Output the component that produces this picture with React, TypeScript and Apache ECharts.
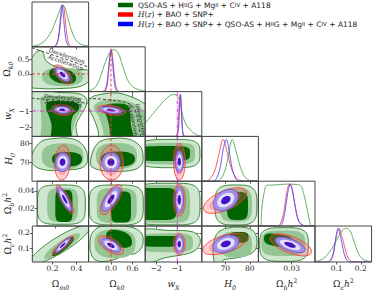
import React, { useEffect, useRef } from "react";
import * as echarts from "echarts";

// ---------- parameters: Ωm0, Ωk0, wX, H0, Ωbh², Ωch² ----------
const RANGES: number[][] = [
  [0.033, 0.5],
  [-0.62, 0.95],
  [-2.53, 0.17],
  [60.4, 83.5],
  [0, 0.051],
  [0.01, 0.245],
];
const XTICKS: number[][] = [[0.2, 0.4], [0.0, 0.6], [-2, -1], [70, 80], [0.03], [0.1, 0.2]];
const YTICKS: number[][] = [[], [0.0, 0.5], [-2, -1], [70, 80], [0.02, 0.04], [0.1, 0.2]];
const AXIS_NAMES: string[] = [
  "{o|Ω}{s|m0}",
  "{o|Ω}{s|k0}",
  "{i|w}{s|X}",
  "{i|H}{s|0}",
  "{o|Ω}{s|b}{i|h}{p|2}",
  "{o|Ω}{s|c}{i|h}{p|2}",
];

const NAME_G = "QSO-AS + HIIG + MgII + CIV + A118";
const NAME_R = "H(z) + BAO + SNP+";
const NAME_B = "H(z) + BAO + SNP+ + QSO-AS + HIIG + MgII + CIV + A118";

// ---------- 1D marginals (x, relative probability) ----------
const gOm = [[0.033,0.01],[0.08,0.04],[0.13,0.12],[0.18,0.3],[0.21,0.48],[0.24,0.7],[0.265,0.9],[0.285,1.0],[0.305,0.93],[0.335,0.62],[0.37,0.3],[0.4,0.14],[0.43,0.07],[0.47,0.03],[0.5,0.02]];
const rOm = [[0.033,0],[0.2,0],[0.23,0.04],[0.255,0.25],[0.27,0.62],[0.29,1.0],[0.305,0.72],[0.32,0.3],[0.34,0.05],[0.37,0],[0.5,0]];
const bOm = [[0.033,0],[0.2,0],[0.23,0.03],[0.25,0.2],[0.265,0.6],[0.28,1.0],[0.295,0.65],[0.31,0.22],[0.33,0.03],[0.36,0],[0.5,0]];

const gOk = [[-0.62,0.02],[-0.5,0.06],[-0.4,0.14],[-0.29,0.36],[-0.16,0.69],[-0.02,0.95],[0.06,1.0],[0.19,0.94],[0.33,0.6],[0.46,0.28],[0.6,0.12],[0.75,0.05],[0.95,0.02]];
const rOk = [[-0.62,0],[-0.27,0],[-0.17,0.04],[-0.1,0.28],[-0.05,0.7],[0.01,1.0],[0.06,0.7],[0.11,0.28],[0.17,0.04],[0.27,0],[0.95,0]];
const bOk = [[-0.62,0],[-0.25,0],[-0.15,0.03],[-0.09,0.25],[-0.05,0.65],[0.0,1.0],[0.05,0.65],[0.09,0.25],[0.15,0.03],[0.25,0],[0.95,0]];

const gW = [[-2.53,0.31],[-2.13,0.56],[-1.65,0.84],[-1.33,0.98],[-1.17,1.0],[-0.93,0.92],[-0.77,0.56],[-0.61,0.31],[-0.37,0.15],[-0.05,0.03],[0.17,0.01]];
const rW = [[-2.53,0],[-1.12,0],[-1.01,0.05],[-0.95,0.35],[-0.91,0.8],[-0.87,1.0],[-0.82,0.7],[-0.77,0.25],[-0.71,0.03],[-0.62,0],[0.17,0]];
const bW = [[-2.53,0],[-1.08,0],[-0.98,0.05],[-0.92,0.35],[-0.88,0.8],[-0.84,1.0],[-0.8,0.7],[-0.76,0.25],[-0.71,0.03],[-0.62,0],[0.17,0]];

const gH = [[60.4,0],[66,0],[68,0.05],[69.8,0.25],[71.2,0.6],[72.8,1.0],[74.2,0.75],[75.6,0.45],[77,0.2],[78.5,0.07],[80.5,0.01],[83.5,0]];
const rH = [[60.4,0],[62,0],[63.5,0.04],[65.5,0.22],[67.3,0.62],[69.1,1.0],[70.8,0.68],[72.5,0.3],[74.5,0.08],[76.5,0.01],[79,0],[83.5,0]];
const bH = [[60.4,0],[64,0],[66,0.03],[67.8,0.3],[69,0.72],[70.4,1.0],[71.6,0.72],[72.8,0.3],[74.5,0.04],[76,0],[83.5,0]];

const gB = [[0,0],[0.0021,0.01],[0.003,0.4],[0.0055,0.85],[0.0075,0.97],[0.015,0.98],[0.025,1.0],[0.035,0.99],[0.0385,0.95],[0.041,0.75],[0.044,0.4],[0.047,0.03],[0.049,0],[0.051,0]];
const rB = [[0,0],[0.016,0],[0.0195,0.04],[0.023,0.35],[0.0255,0.8],[0.028,1.0],[0.0305,0.85],[0.033,0.48],[0.036,0.13],[0.04,0.02],[0.043,0],[0.051,0]];
const bB = [[0,0],[0.018,0],[0.021,0.04],[0.024,0.35],[0.0265,0.8],[0.0288,1.0],[0.031,0.82],[0.0335,0.42],[0.037,0.08],[0.041,0.01],[0.044,0],[0.051,0]];

const gC = [[0.01,0.01],[0.03,0.05],[0.05,0.13],[0.072,0.32],[0.09,0.52],[0.106,0.74],[0.125,0.95],[0.14,1.0],[0.155,0.93],[0.168,0.7],[0.181,0.42],[0.192,0.22],[0.202,0.13],[0.215,0.06],[0.228,0.03],[0.245,0.01]];
const rC = [[0.01,0],[0.06,0],[0.073,0.04],[0.087,0.3],[0.098,0.75],[0.11,1.0],[0.121,0.78],[0.133,0.45],[0.147,0.12],[0.16,0.02],[0.17,0],[0.245,0]];
const bC = [[0.01,0],[0.06,0],[0.075,0.04],[0.088,0.3],[0.097,0.75],[0.106,1.0],[0.116,0.75],[0.126,0.4],[0.138,0.1],[0.15,0.01],[0.16,0],[0.245,0]];

const MARGINALS = [
  [gOm, rOm, bOm],
  [gOk, rOk, bOk],
  [gW, rW, bW],
  [gH, rH, bH],
  [gB, rB, bB],
  [gC, rC, bC],
];

// ---------- 2D green contours: [outer, middle, inner] ----------
// polygon = list of [x, y]; superellipse = [cx, cy, left, right, down, up, exponent, corr]
const green_Om_Ok = [
  [[0.0165,0.417],[0.058,0.715],[0.091,0.82],[0.124,0.768],[0.14,0.523],[0.182,0.347],[0.264,0.225],[0.388,0.155],[0.51,0.102],[0.51,-0.213],[0.429,-0.441],[0.264,-0.511],[0.099,-0.511],[0.0165,-0.424]],
  [0.2805,-0.091,0.165,0.173,0.333,0.315,2.5,0],
  [0.285,-0.073,0.111,0.111,0.28,0.28,2.2,-0.3],
];
const green_Om_w = [
  [[0.0165,0.116],[0.264,0.116],[0.429,0.025],[0.483,-0.276],[0.479,-0.698],[0.437,-1.241],[0.396,-1.844],[0.4,-3.05],[0.0165,-3.05]],
  [[0.107,-0.156],[0.264,-0.095],[0.413,-0.186],[0.446,-0.517],[0.429,-1.06],[0.388,-1.663],[0.363,-2.568],[0.359,-3.05],[0.124,-3.05],[0.111,-1.543],[0.103,-0.638]],
  [[0.165,-0.457],[0.281,-0.397],[0.404,-0.517],[0.421,-0.879],[0.371,-1.301],[0.355,-1.844],[0.351,-3.05],[0.198,-3.05],[0.194,-1.844],[0.173,-1.301],[0.149,-0.819]],
];
const green_Ok_w = [
  [[-0.637,-0.517],[-0.526,-0.156],[-0.304,-0.005],[0.168,0.086],[0.612,-0.186],[0.945,-0.578],[1.084,-0.94],[1.084,-3.05],[-0.276,-3.05],[-0.359,-2.146],[-0.498,-1.362],[-0.623,-0.819]],
  [[-0.47,-0.698],[-0.304,-0.427],[0.029,-0.307],[0.445,-0.397],[0.75,-0.698],[0.972,-1.06],[1.084,-1.543],[1.084,-3.05],[-0.137,-3.05],[-0.221,-2.146],[-0.332,-1.362],[-0.456,-0.94]],
  [[-0.221,-0.698],[0.112,-0.548],[0.445,-0.638],[0.528,-1.06],[0.556,-1.844],[0.639,-3.05],[0.057,-3.05],[-0.054,-1.844],[-0.137,-1.241],[-0.248,-0.94]],
];
const green_Om_H = [
  [[0.025,72.88],[0.066,78.03],[0.124,81.39],[0.223,82.42],[0.322,82.67],[0.412,81.13],[0.47,77.52],[0.491,73.39],[0.483,69.27],[0.429,66.95],[0.305,66.18],[0.182,65.92],[0.083,67.21],[0.033,69.79]],
  [0.285,73.13,0.172,0.172,6.6,6.8,2.6,0],
  [0.322,71.85,0.124,0.124,3.9,3.6,2.4,0],
];
const green_Ok_H = [
  [[-0.567,69.78],[-0.498,75.97],[-0.304,80.87],[0.112,82.52],[0.528,81.9],[0.806,78.55],[0.889,73.91],[0.861,69.27],[0.667,66.43],[0.251,65.5],[-0.248,65.92],[-0.526,67.72]],
  [0.154,73.4,0.569,0.569,6.7,6.7,2.6,0],
  [0.196,71.85,0.47,0.47,3.9,3.9,2.4,0],
];
const green_w_H = [
  [-1.108,74.75,1.91,1.19,7.4,7.2,3.5,0],
  [-1.108,74.75,1.91,0.954,5.7,5.5,3.5,0],
  [-1.347,74.75,1.67,0.954,3.97,3.76,4,0],
];
const green_Om_B = [
  [0.253,0.0243,0.217,0.217,0.0224,0.0224,4,0],
  [0.264,0.0239,0.14,0.14,0.0193,0.0193,4,0],
  [0.276,0.0228,0.078,0.078,0.0182,0.0182,5,0],
];
const green_Ok_B = [
  [0.148,0.0239,0.749,0.749,0.0228,0.0228,4,0],
  [0.16,0.0233,0.555,0.555,0.0199,0.0199,4,0],
  [0.279,0.0216,0.277,0.277,0.0176,0.0176,5,0],
];
const green_w_B = [
  [-1.252,0.0251,1.91,1.336,0.0239,0.0236,4,0],
  [-1.347,0.0251,1.91,0.954,0.0216,0.0216,4,0],
  [-1.824,0.0251,1.43,0.797,0.0182,0.0182,5,0],
];
const green_H_B = [
  [74.35,0.0239,8.57,8.57,0.0228,0.0228,3.5,0],
  [74.35,0.0239,6.53,6.53,0.019,0.019,3.5,0],
  [74.97,0.0228,4.28,4.28,0.0159,0.0159,4,0],
];
const green_Om_C = [
  [0.264,0.124,0.2475,0.2475,0.126,0.126,2,0.88],
  [0.28,0.114,0.1485,0.1485,0.084,0.084,2,0.88],
  [0.289,0.111,0.091,0.091,0.063,0.063,2,0.88],
];
const green_Ok_C = [
  [[-0.581,0.137],[-0.526,0.198],[-0.304,0.24],[0.168,0.248],[0.639,0.232],[0.861,0.193],[0.889,0.13],[0.806,0.088],[0.612,0.061],[0.39,0.072],[0.196,0.035],[-0.165,0.014],[-0.442,0.024],[-0.567,0.077]],
  [0.112,0.135,0.569,0.569,0.1,0.089,2.6,0],
  [0.223,0.156,0.361,0.361,0.052,0.063,2.4,-0.3],
];
const green_w_C = [
  [[-2.778,0.208],[-1.347,0.216],[-0.298,0.208],[0.06,0.172],[0.06,0.119],[-0.25,0.077],[-0.87,0.054],[-1.586,0.038],[-2.3,0.004],[-2.778,0.004]],
  [-1.252,0.137,1.67,1.0,0.063,0.06,3.5,0],
  [-1.586,0.145,1.43,0.716,0.035,0.035,4,0],
];
const green_H_C = [
  [[65.38,0.145],[67.01,0.203],[71.09,0.232],[78.03,0.235],[81.7,0.208],[82.92,0.145],[82.11,0.088],[79.25,0.056],[73.95,0.035],[69.46,0.025],[68.23,0.004],[65.79,0.004],[64.97,0.077]],
  [74.35,0.124,6.53,6.53,0.084,0.084,3,0],
  [75.58,0.172,3.88,3.88,0.037,0.034,3,0],
];
const green_B_C = [
  [0.0231,0.124,0.0219,0.0219,0.11,0.11,3.5,0],
  [0.0224,0.132,0.0196,0.0196,0.083,0.083,3.5,0],
  [0.0177,0.151,0.0126,0.0135,0.042,0.042,3,-0.3],
];

// [row, col, contours]
const GREEN_PANELS: [number, number, any[]][] = [
  [1, 0, green_Om_Ok],
  [2, 0, green_Om_w],
  [2, 1, green_Ok_w],
  [3, 0, green_Om_H],
  [3, 1, green_Ok_H],
  [3, 2, green_w_H],
  [4, 0, green_Om_B],
  [4, 1, green_Ok_B],
  [4, 2, green_w_B],
  [4, 3, green_H_B],
  [5, 0, green_Om_C],
  [5, 1, green_Ok_C],
  [5, 2, green_w_C],
  [5, 3, green_H_C],
  [5, 4, green_B_C],
];

// ---------- red / blue 2D (outer contour): [row, col, cx, cy, halfX, halfY, corr] ----------
const RED_2D = [
  [1,0,0.287,-0.02,0.076,0.333,-0.6],
  [2,0,0.285,-0.93,0.089,0.33,-0.15],
  [2,1,0.01,-0.95,0.39,0.3,-0.4],
  [3,0,0.285,70.0,0.064,9.0,0.1],
  [3,1,0.018,70.0,0.325,9.0,0],
  [3,2,-0.9,70.4,0.277,9.4,0],
  [4,0,0.287,0.0302,0.08,0.0165,-0.85],
  [4,1,0.0,0.03,0.3,0.0171,0.7],
  [4,2,-0.9,0.0295,0.277,0.018,0],
  [4,3,69.9,0.029,8.85,0.0146,0.6],
  [5,0,0.285,0.119,0.089,0.061,0.9],
  [5,1,0.0,0.119,0.347,0.061,-0.6],
  [5,2,-0.9,0.127,0.277,0.07,0],
  [5,3,69.9,0.128,9.1,0.07,0.55],
  [5,4,0.0292,0.122,0.0187,0.072,-0.6],
];
const BLUE_2D = [
  [1,0,0.285,-0.02,0.062,0.252,-0.6],
  [2,0,0.283,-0.93,0.068,0.223,-0.15],
  [2,1,0.0,-0.95,0.305,0.22,-0.4],
  [3,0,0.285,70.2,0.062,4.9,0.05],
  [3,1,0.0,70.2,0.255,4.9,0],
  [3,2,-0.9,70.5,0.2,5.6,0],
  [4,0,0.283,0.0305,0.064,0.0139,-0.85],
  [4,1,0.0,0.0305,0.255,0.0139,0.7],
  [4,2,-0.9,0.0298,0.2,0.0151,0],
  [4,3,70.2,0.0295,5.1,0.0123,0.35],
  [5,0,0.285,0.119,0.064,0.049,0.9],
  [5,1,0.0,0.119,0.27,0.046,-0.6],
  [5,2,-0.9,0.127,0.2,0.057,0],
  [5,3,70.2,0.128,5.3,0.057,0.3],
  [5,4,0.0285,0.122,0.0135,0.051,-0.6],
];

// ---------- reference lines ----------
const OK_FLAT = 0; // Ωk0 = 0
const W_LCDM = -1; // wX = -1
const decel_Om_Ok = [[0.033,0.91],[0.5,0.24]];
const decel_Om_w = [[0.03,-0.234],[0.264,-0.367],[0.497,-0.535]];
const decel_Ok_w = [[-0.637,-0.234],[-0.026,-0.336],[0.473,-0.535],[0.667,-0.94],[0.759,-1.742],[0.82,-2.568]];
const DECEL_LINES: [number, number, number[][]][] = [
  [1, 0, decel_Om_Ok],
  [2, 0, decel_Om_w],
  [2, 1, decel_Ok_w],
];
// [row, col, x, y, rotationDeg, text, fontSize]
const DECEL_TEXT: any[] = [
  [1, 0, 0.32, 0.63, -19, "Deceleration", 5.8],
  [1, 0, 0.31, 0.4, -19, "Acceleration", 5.8],
  [2, 0, 0.285, -0.19, -5, "Deceleration", 5.8],
  [2, 0, 0.29, -0.56, -5, "Acceleration", 5.8],
  [2, 1, 0.83, -1.5, -78, "Deceleration", 5],
  [2, 1, 0.62, -1.55, -78, "Acceleration", 5],
];

// ---------- layout ----------
const LEFT = 32, TOP = 2, CW = 56.6, CH = 44.8, YMAX1D = 1.07;
const SERIF = "DejaVu Serif";
const SANS = "DejaVu Sans";

const FMT: ((v: number) => string)[] = [
  (v) => v.toFixed(1),
  (v) => v.toFixed(1),
  (v) => (v < 0 ? "\u2212" + Math.abs(v) : String(v)),
  (v) => String(v),
  (v) => v.toFixed(2),
  (v) => v.toFixed(1),
];

const RICH: any = {
  o: { fontFamily: SERIF, fontSize: 9, color: "#222", lineHeight: 13, verticalAlign: "middle" },
  i: { fontFamily: SERIF, fontSize: 9, fontStyle: "italic", color: "#222", lineHeight: 13, verticalAlign: "middle" },
  s: { fontFamily: SERIF, fontSize: 6.3, fontStyle: "italic", color: "#222", lineHeight: 13, verticalAlign: "bottom" },
  p: { fontFamily: SERIF, fontSize: 6.3, color: "#222", lineHeight: 13, verticalAlign: "top" },
};

function ellipsePts(cx: number, cy: number, ax: number, ay: number, rho: number, k: number) {
  const s = Math.sqrt(1 - rho * rho);
  const pts: number[][] = [];
  const N = 64;
  for (let i = 0; i < N; i++) {
    const t = (2 * Math.PI * i) / N;
    const u = Math.cos(t), w = Math.sin(t);
    pts.push([cx + k * ax * u, cy + k * ay * (rho * u + s * w)]);
  }
  return pts;
}
function superPts(p: number[]) {
  const [cx, cy, axl, axr, ayd, ayu, n, rho] = p;
  const s = Math.sqrt(1 - rho * rho);
  const pts: number[][] = [];
  const N = 72;
  for (let i = 0; i < N; i++) {
    const t = (2 * Math.PI * i) / N;
    const u = Math.cos(t), w = Math.sin(t);
    const up = Math.sign(u) * Math.pow(Math.abs(u), 2 / n);
    const wp = Math.sign(w) * Math.pow(Math.abs(w), 2 / n);
    const yy = rho * up + s * wp;
    pts.push([cx + (up >= 0 ? axr : axl) * up, cy + (yy >= 0 ? ayu : ayd) * yy]);
  }
  return pts;
}

const GREEN_STYLE = [
  { fill: "#cfe6cf", stroke: "#3d8c3d", lineWidth: 1 },
  { fill: "#93c693", stroke: "none", lineWidth: 0 },
  { fill: "#006400", stroke: "none", lineWidth: 0 },
];
const RED_STYLE = [
  { fill: "rgba(255,90,90,0.28)", stroke: "#ff3b3b", lineWidth: 0.9 },
  { fill: "rgba(255,90,90,0.3)", stroke: "rgba(255,60,60,0.6)", lineWidth: 0.5 },
  { fill: "rgba(255,90,90,0.35)", stroke: "none", lineWidth: 0 },
];
const BLUE_STYLE = [
  { fill: "rgba(160,145,236,0.9)", stroke: "#5a3ee6", lineWidth: 0.7 },
  { fill: "rgba(232,228,250,0.95)", stroke: "rgba(120,100,235,0.6)", lineWidth: 0.4 },
  { fill: "#4412c6", stroke: "none", lineWidth: 0 },
];
const LEVELS = [1, 0.7, 0.38];

function buildOption() {
  const panels: number[][] = [];
  for (let r = 0; r < 6; r++) for (let c = 0; c <= r; c++) panels.push([r, c]);
  const gi = (r: number, c: number) => panels.findIndex((p) => p[0] === r && p[1] === c);

  const tickStyle = { color: "#333", width: 0.8 };
  const labelBase = { fontSize: 7.5, fontFamily: SERIF, color: "#222", margin: 2.5 };

  const grid = panels.map(([r, c]) => ({
    left: LEFT + c * CW,
    top: TOP + r * CH,
    width: CW,
    height: CH,
  }));
  const xAxis = panels.map(([r, c], g) => ({
    gridIndex: g,
    type: "value",
    min: RANGES[c][0],
    max: RANGES[c][1],
    axisLine: { show: false },
    splitLine: { show: false },
    axisTick: { show: true, length: 2.5, customValues: XTICKS[c], lineStyle: tickStyle },
    axisLabel: { show: r === 5, customValues: XTICKS[c], formatter: FMT[c], ...labelBase },
    name: r === 5 ? AXIS_NAMES[c] : "",
    nameLocation: "middle",
    nameGap: 15,
    nameTextStyle: { rich: RICH },
  }));
  const yAxis = panels.map(([r, c], g) =>
    r === c
      ? { gridIndex: g, type: "value", min: 0, max: YMAX1D, show: false }
      : {
          gridIndex: g,
          type: "value",
          min: RANGES[r][0],
          max: RANGES[r][1],
          axisLine: { show: false },
          splitLine: { show: false },
          axisTick: { show: true, length: 2.5, customValues: YTICKS[r], lineStyle: tickStyle },
          axisLabel: { show: c === 0, customValues: YTICKS[r], formatter: FMT[r], ...labelBase },
          name: c === 0 ? AXIS_NAMES[r] : "",
          nameLocation: "middle",
          nameGap: 17,
          nameRotate: 90,
          nameTextStyle: { rich: RICH },
        }
  );

  const series: any[] = [];

  const contourSeries = (g: number, r: number, c: number, shapes: { pts: number[][]; smooth: number; style: any }[], z: number) => ({
    type: "custom",
    xAxisIndex: g,
    yAxisIndex: g,
    clip: true,
    silent: true,
    z,
    data: [[RANGES[c][0], RANGES[r][0]]],
    renderItem: (params: any, api: any) => {
      const cs = params.coordSys;
      return {
        type: "group",
        clipPath: { type: "rect", shape: { x: cs.x, y: cs.y, width: cs.width, height: cs.height } },
        children: shapes.map((sh) => ({
          type: "polygon",
          shape: { points: sh.pts.map((p) => api.coord(p)), smooth: sh.smooth },
          style: { ...sh.style },
        })),
      };
    },
  });

  // green contours
  GREEN_PANELS.forEach(([r, c, levels]) => {
    const shapes = levels.map((lv: any, k: number) => {
      const isPoly = Array.isArray(lv[0]);
      return { pts: isPoly ? lv : superPts(lv), smooth: isPoly ? 0.35 : 0, style: GREEN_STYLE[k] };
    });
    series.push(contourSeries(gi(r, c), r, c, shapes, 2));
  });
  // red and blue contours
  [
    [RED_2D, RED_STYLE, 3],
    [BLUE_2D, BLUE_STYLE, 4],
  ].forEach(([table, styles, z]: any) => {
    table.forEach((row: number[]) => {
      const [r, c, cx, cy, ax, ay, rho] = row;
      const shapes = LEVELS.map((k, i) => ({ pts: ellipsePts(cx, cy, ax, ay, rho, k), smooth: 0, style: styles[i] }));
      series.push(contourSeries(gi(r, c), r, c, shapes, z));
    });
  });

  // 1D marginals
  const lineCols = ["#55a955", "#ff4a4a", "#5050ff"];
  const names = [NAME_G, NAME_R, NAME_B];
  MARGINALS.forEach((sets, p) => {
    sets.forEach((data, k) => {
      series.push({
        type: "line",
        name: names[k],
        xAxisIndex: gi(p, p),
        yAxisIndex: gi(p, p),
        data,
        smooth: 0.35,
        showSymbol: false,
        symbol: "none",
        silent: true,
        z: 3 + k,
        lineStyle: { color: lineCols[k], width: 1, opacity: 0.9 },
        itemStyle: { color: lineCols[k] },
      });
    });
  });

  // reference lines: Ωk0 = 0 (red dashed) and wX = -1 (magenta dash-dot)
  const refLine = (g: number, data: number[][], color: string, type: any) => ({
    type: "line",
    xAxisIndex: g,
    yAxisIndex: g,
    data,
    symbol: "none",
    silent: true,
    z: 6,
    lineStyle: { color, width: 1, type },
  });
  const RED_DASH = [3, 2];
  const MAG_DASH = [4, 1.5, 1, 1.5];
  for (let r = 1; r < 6; r++) {
    const yr = r === 1 ? [0, YMAX1D] : RANGES[r];
    series.push(refLine(gi(r, 1), [[OK_FLAT, yr[0]], [OK_FLAT, yr[1]]], "#e0403f", RED_DASH));
  }
  series.push(refLine(gi(1, 0), [[RANGES[0][0], OK_FLAT], [RANGES[0][1], OK_FLAT]], "#e0403f", RED_DASH));
  for (let r = 2; r < 6; r++) {
    const yr = r === 2 ? [0, YMAX1D] : RANGES[r];
    series.push(refLine(gi(r, 2), [[W_LCDM, yr[0]], [W_LCDM, yr[1]]], "#d040d0", MAG_DASH));
  }
  series.push(refLine(gi(2, 0), [[RANGES[0][0], W_LCDM], [RANGES[0][1], W_LCDM]], "#d040d0", MAG_DASH));
  series.push(refLine(gi(2, 1), [[RANGES[1][0], W_LCDM], [RANGES[1][1], W_LCDM]], "#d040d0", MAG_DASH));

  // deceleration / acceleration boundary
  DECEL_LINES.forEach(([r, c, data]) => {
    series.push({
      type: "line",
      xAxisIndex: gi(r, c),
      yAxisIndex: gi(r, c),
      data,
      smooth: 0.4,
      symbol: "none",
      silent: true,
      z: 7,
      lineStyle: { color: "#333", width: 0.9, type: [3, 2] },
    });
  });
  DECEL_TEXT.forEach(([r, c, x, y, rot, text, fs]) => {
    series.push({
      type: "custom",
      xAxisIndex: gi(r, c),
      yAxisIndex: gi(r, c),
      silent: true,
      clip: false,
      z: 8,
      data: [[x, y]],
      renderItem: (_p: any, api: any) => {
        const pt = api.coord([api.value(0), api.value(1)]);
        return {
          type: "text",
          x: pt[0],
          y: pt[1],
          rotation: (rot * Math.PI) / 180,
          style: { text, fontSize: fs, fontFamily: SERIF, fill: "#1a1a1a", align: "center", verticalAlign: "middle" },
        };
      },
    });
  });

  // panel frames
  panels.forEach(([r, c], g) => {
    series.push({
      type: "custom",
      xAxisIndex: g,
      yAxisIndex: g,
      silent: true,
      clip: false,
      z: 20,
      data: [[RANGES[c][0], r === c ? 0 : RANGES[r][0]]],
      renderItem: (params: any) => {
        const cs = params.coordSys;
        return {
          type: "rect",
          shape: { x: cs.x, y: cs.y, width: cs.width, height: cs.height },
          style: { fill: "none", stroke: "#444", lineWidth: 1 },
        };
      },
    });
  });

  const hSmall = "{t|QSO-AS + H}{c|II}{t|G + Mg}{c|II}{t| + C}{c|IV}{t| + A118}";
  const hz = "{m|H}{t|(}{m|z}{t|) + BAO + SNP+}";
  const legendText: Record<string, string> = {
    [NAME_G]: hSmall,
    [NAME_R]: hz,
    [NAME_B]: hz + "{t| + }" + hSmall,
  };

  return {
    animation: false,
    backgroundColor: "#ffffff",
    textStyle: { fontFamily: SERIF },
    grid,
    xAxis,
    yAxis,
    legend: {
      orient: "vertical",
      left: 118,
      top: 1,
      icon: "rect",
      itemWidth: 15,
      itemHeight: 4.5,
      itemGap: 1.5,
      padding: 0,
      selectedMode: false,
      data: [
        { name: NAME_G, itemStyle: { color: "#006400" } },
        { name: NAME_R, itemStyle: { color: "#ff0000" } },
        { name: NAME_B, itemStyle: { color: "#0000ff" } },
      ],
      formatter: (name: string) => legendText[name] || name,
      textStyle: {
        rich: {
          t: { fontFamily: SANS, fontSize: 7.5, color: "#222", lineHeight: 10 },
          c: { fontFamily: SANS, fontSize: 5.5, color: "#222", lineHeight: 10 },
          m: { fontFamily: SERIF, fontSize: 7.5, fontStyle: "italic", color: "#222", lineHeight: 10 },
        },
      },
    },
    series,
  };
}

export default function App() {
  const ref = useRef<HTMLDivElement>(null);
  useEffect(() => {
    if (!ref.current) return;
    const chart = echarts.init(ref.current, undefined, { renderer: "svg" });
    chart.setOption(buildOption() as any);
    return () => chart.dispose();
  }, []);
  return <div ref={ref} style={{ position: "fixed", left: 0, top: 0, width: 374, height: 291 }} />;
}
